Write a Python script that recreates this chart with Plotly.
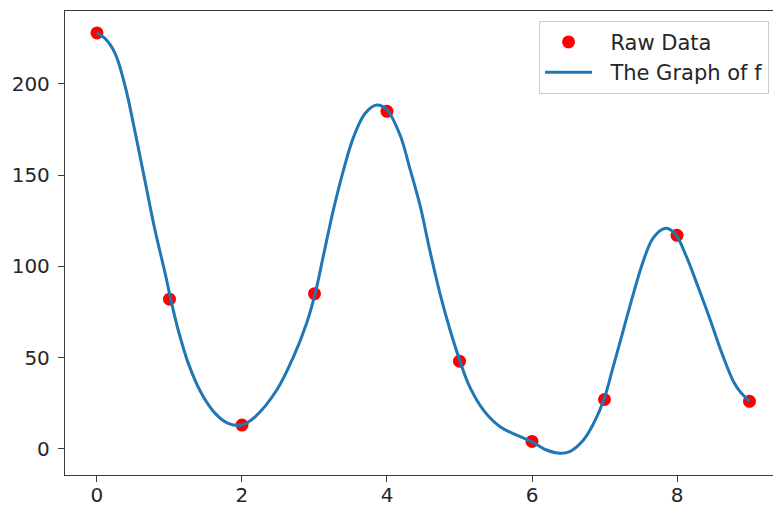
import plotly.graph_objects as go

# Sampled observations
raw_x = [0, 1, 2, 3, 4, 5, 6, 7, 8, 9]
raw_y = [228, 82, 13, 85, 185, 48, 4, 27, 117, 26]

# Values of the fitted function f, sampled along x
f_x = [0.0, 0.11, 0.25, 0.39, 0.52, 0.66, 0.80, 0.94, 1.02, 1.12, 1.26, 1.44, 1.63,
       1.81, 2.0, 2.18, 2.48, 2.71, 2.89, 3.01, 3.12, 3.26, 3.40, 3.54, 3.70,
       3.86, 4.0, 4.18, 4.32, 4.46, 4.59, 4.73, 4.87, 5.01, 5.14, 5.33, 5.56,
       5.79, 6.0, 6.20, 6.39, 6.52, 6.71, 6.85, 6.99, 7.12, 7.26, 7.40, 7.54,
       7.67, 7.83, 7.97, 8.13, 8.29, 8.46, 8.62, 8.78, 8.87, 9.0]
f_y = [228, 225, 216.8, 198.5, 174.7, 147.3, 119.9, 96.2, 81.5, 65.1, 46.8, 30.4, 19.4,
       13.9, 13.0, 17.5, 32.2, 50.4, 68.7, 85.2, 105.3, 130.9, 152.8, 171, 183.9,
       188.4, 185.7, 172, 153, 132.7, 108.9, 85.2, 65.1, 47.7, 34, 21.2, 12.1,
       7.5, 3.8, -0.7, -2.5, -1.6, 4.8, 13.9, 26.7, 45, 65.1, 85.2, 103.5,
       115.5, 120.8, 118.1, 105.3, 88.8, 70.5, 52.3, 36.7, 31.3, 26]

x_ticks = [0, 2, 4, 6, 8]
y_ticks = [0, 50, 100, 150, 200]

FONT = "DejaVu Sans"
AXIS_COLOR = "#3a3a3a"
TEXT_COLOR = "#262626"
FONT_SIZE = 20
LEGEND_FONT_SIZE = 21

fig = go.Figure()
fig.add_trace(go.Scatter(
    x=raw_x, y=raw_y, mode="markers", name="  Raw Data",
    marker=dict(color="#ff0000", size=13, line=dict(width=0)),
))
fig.add_trace(go.Scatter(
    x=f_x, y=f_y, mode="lines", name="  The Graph of f",
    line=dict(color="#1f77b4", width=3, shape="spline", smoothing=1.0),
))

axis_common = dict(
    showline=True, mirror=True, linecolor=AXIS_COLOR, linewidth=1.3,
    ticks="outside", ticklen=6, tickwidth=1.3, tickcolor=AXIS_COLOR,
    showgrid=False, zeroline=False, automargin=False,
    tickfont=dict(family=FONT, size=FONT_SIZE, color=TEXT_COLOR),
)

fig.update_xaxes(range=[-0.441, 9.324], tickvals=x_ticks, ticklabelstandoff=-4,
                 **axis_common)
fig.update_yaxes(range=[-14.4, 240], tickvals=y_ticks, ticklabelstandoff=4,
                 **axis_common)

fig.update_layout(
    width=773, height=509,
    margin=dict(l=65, r=0, t=11, b=34),
    paper_bgcolor="white", plot_bgcolor="white",
    font=dict(family=FONT, size=FONT_SIZE, color=TEXT_COLOR),
    legend=dict(
        x=0.9944, y=0.979, xanchor="right", yanchor="top",
        bgcolor="rgba(255,255,255,0.8)", bordercolor="#cccccc", borderwidth=1,
        font=dict(family=FONT, size=LEGEND_FONT_SIZE, color=TEXT_COLOR),
        itemwidth=47,
    ),
)

fig.write_html("out.html")
